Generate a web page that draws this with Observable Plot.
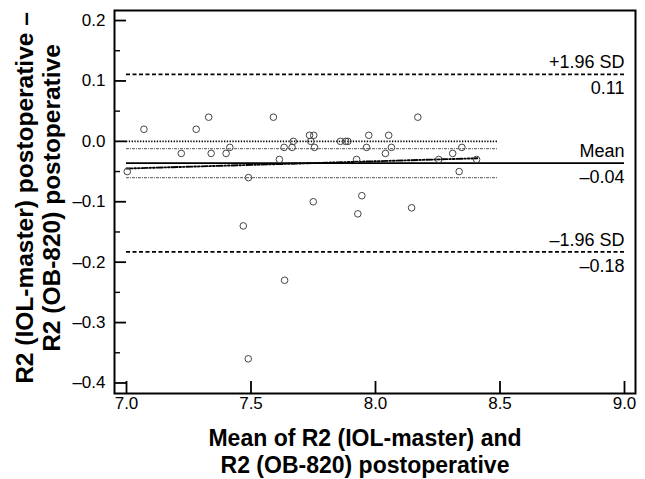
<!DOCTYPE html>
<html>
<head>
<meta charset="utf-8">
<script src="https://cdn.jsdelivr.net/npm/d3@7"></script>
<script src="https://cdn.jsdelivr.net/npm/@observablehq/plot@0.6"></script>
<style>
  html, body { margin: 0; padding: 0; background: #fff; }
  #chart { width: 645px; height: 479px; }
</style>
</head>
<body>
<div id="chart"></div>
<script>
// Mean of the two measurements (x) and their difference (y)
const meanValues = [7.003, 7.07, 7.22, 7.28, 7.33, 7.34, 7.40, 7.415, 7.49, 7.59,
  7.633, 7.665, 7.67, 7.614, 7.735, 7.752, 7.74, 7.755, 7.859, 7.88,
  7.889, 7.924, 7.964, 7.973, 8.053, 8.064, 8.04, 8.17, 8.347, 8.31,
  8.254, 8.406, 8.336, 7.75, 7.945, 7.929, 8.145, 7.469, 7.635, 7.489];
const diffValues = [-0.05, 0.02, -0.02, 0.02, 0.04, -0.02, -0.02, -0.01, -0.06, 0.04,
  -0.01, -0.01, 0.00, -0.03, 0.01, 0.01, 0.00, -0.01, 0.00, 0.00,
  0.00, -0.03, -0.01, 0.01, 0.01, -0.01, -0.02, 0.04, -0.01, -0.02,
  -0.03, -0.03, -0.05, -0.10, -0.09, -0.12, -0.11, -0.14, -0.23, -0.36];

// Summary statistics
const statNames = ["+1.96 SD", "Mean", "–1.96 SD"];
const statValues = [0.111, -0.036, -0.183];
const statLabels = ["0.11", "–0.04", "–0.18"];
const ciMean = [-0.012, -0.060];
const zeroLine = [0];
const regX = [7.0, 8.41];
const regY = [-0.045, -0.028];

// Axes
const xDomain = [6.9518, 9.0442];
const yDomain = [-0.4174, 0.2166];
const xTicks = [7.0, 7.5, 8.0, 8.5, 9.0];
const yTicks = [0.2, 0.1, 0.0, -0.1, -0.2, -0.3, -0.4];
const yMinorTicks = [0.15, 0.05, -0.05, -0.15, -0.25, -0.35];
const statLineStart = 7.0, statLineEnd = 9.0, innerLineEnd = 8.49;

const xTitle = "Mean of R2 (IOL-master) and\nR2 (OB-820) postoperative";
const yTitle = "R2 (IOL-master) postoperative –\nR2 (OB-820) postoperative";

const points = meanValues.map((x, i) => ({x, y: diffValues[i]}));
const stats = statValues.map((v, i) => ({v, name: statNames[i], label: statLabels[i]}));
const reg = regX.map((x, i) => ({x, y: regY[i]}));
const fmt = d => (d < 0 ? "–" : "") + Math.abs(d).toFixed(1);

const chart = Plot.plot({
  width: 645,
  height: 479,
  marginLeft: 114,
  marginRight: 10,
  marginTop: 10,
  marginBottom: 86,
  style: {fontFamily: "'Liberation Sans', Arial, Helvetica, sans-serif", fontSize: "17px", color: "#000", background: "#fff"},
  x: {domain: xDomain},
  y: {domain: yDomain},
  marks: [
    // inner reference lines
    Plot.ruleY(zeroLine, {x1: statLineStart, x2: innerLineEnd, stroke: "#000", strokeWidth: 1.6, strokeDasharray: "1.3,1.5"}),
    Plot.ruleY(ciMean, {x1: statLineStart, x2: innerLineEnd, stroke: "#777", strokeWidth: 1.1, strokeDasharray: "3,1,1,1"}),
    // limits of agreement and mean
    Plot.ruleY([statValues[0], statValues[2]], {x1: statLineStart, x2: statLineEnd, stroke: "#000", strokeWidth: 1.7, strokeDasharray: "4,2.5"}),
    Plot.ruleY([statValues[1]], {x1: statLineStart, x2: statLineEnd, stroke: "#000", strokeWidth: 1.9}),
    // regression line
    Plot.line(reg, {x: "x", y: "y", stroke: "#000", strokeWidth: 1.9, strokeDasharray: "6,2,1.5,2,1.5,2"}),
    // points
    Plot.dot(points, {x: "x", y: "y", r: 3.3, stroke: "#444", strokeWidth: 1, fill: "none"}),
    // stat labels
    Plot.text(stats, {x: statLineEnd, y: "v", text: "name", textAnchor: "end", dy: -12, fontSize: 18, fill: "#000"}),
    Plot.text(stats, {x: statLineEnd, y: "v", text: "label", textAnchor: "end", dy: 14, fontSize: 18, fill: "#000"}),
    // axes: inward ticks
    Plot.axisY(yTicks, {tickSize: 12, dx: 12, fill: "none", label: null, strokeWidth: 1.8}),
    Plot.axisY(yMinorTicks, {tickSize: 6, dx: 6, fill: "none", label: null, strokeWidth: 1.4}),
    Plot.axisY(yTicks, {tickSize: 0, tickPadding: 9, tickFormat: fmt, label: null, fontSize: 17}),
    Plot.axisX(xTicks, {tickSize: 12, dy: -12, fill: "none", label: null, strokeWidth: 1.8}),
    Plot.axisX(xTicks, {tickSize: 0, tickPadding: 3, tickFormat: d => d.toFixed(1), label: null, fontSize: 17}),
    Plot.frame({stroke: "#000", strokeWidth: 2}),
    // titles
    Plot.text([xTitle], {frameAnchor: "bottom", textAnchor: "middle", dx: -10, dy: 57, lineAnchor: "middle", fontSize: 23, fontWeight: "bold", lineHeight: 1.17, fill: "#000"}),
    Plot.text([yTitle], {frameAnchor: "left", textAnchor: "middle", rotate: -90, dx: -77, dy: -4, lineAnchor: "middle", fontSize: 24.5, fontWeight: "bold", lineHeight: 1.1, fill: "#000"})
  ]
});
document.getElementById("chart").appendChild(chart);
</script>
</body>
</html>
